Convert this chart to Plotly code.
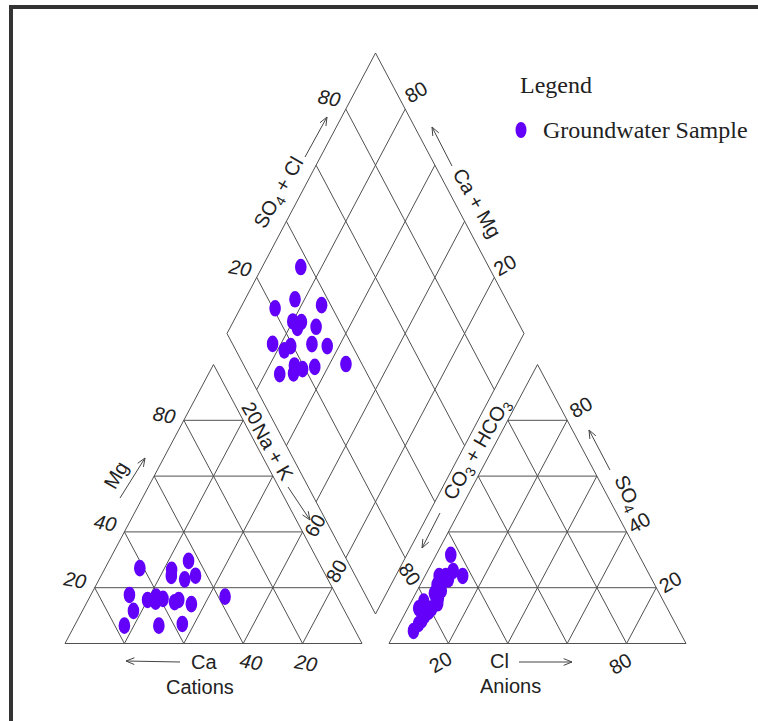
import numpy as np
import plotly.graph_objects as go

# ---------------- data: groundwater samples (% meq/L) ----------------
ca   = [61.3, 69.6, 76.8, 71.1, 64.4, 60.9, 50.9, 62.0, 52.1, 59.0, 43.6, 65.2, 48.2, 55.7, 53.9, 43.9, 50.4, 57.0, 37.7]
mg   = [27.0, 17.4, 6.4, 11.7, 15.6, 16.8, 26.4, 15.0, 24.2, 16.0, 29.6, 6.4, 23.0, 14.8, 15.6, 24.3, 14.1, 7.0, 16.8]
nak  = [11.7, 13.0, 16.8, 17.2, 20.0, 22.3, 22.7, 23.0, 23.7, 25.0, 26.8, 28.4, 28.8, 29.5, 30.5, 31.8, 35.5, 36.0, 45.5]
hco3 = [79.3, 63.3, 71.0, 86.5, 75.7, 83.7, 75.3, 72.9, 80.8, 89.5, 63.1, 83.0, 68.8, 84.7, 73.3, 80.9, 76.4, 68.5, 65.4]
so4  = [12.6, 31.8, 24.2, 7.0, 18.0, 12.6, 16.2, 19.0, 15.0, 4.5, 24.2, 10.0, 24.2, 8.4, 21.0, 11.4, 14.4, 23.0, 26.0]
cl   = [8.1, 4.9, 4.8, 6.5, 6.3, 3.7, 8.5, 8.1, 4.2, 6.0, 12.7, 7.0, 7.0, 6.9, 5.7, 7.7, 9.2, 8.5, 8.6]

grid_steps = [20, 40, 60, 80]
series_name = "Groundwater Sample"
legend_title = "Legend"

# ---------------- geometry / layout constants ----------------
W, HT = 758, 721
H = np.sqrt(3) / 2
GAP = 27 / 297
AX0 = 1 + GAP                     # anion triangle origin
PX_X = 297.0                      # pixels per x unit (triangle side)
PX_Y = 279.0 / H                  # pixels per y unit
X0_PX, Y0_PX = 65.0, 643.5        # pixel position of data origin
DBX, DBY = 1 + GAP / 2, (Y0_PX - 614.0) / PX_Y   # diamond bottom vertex
DSTRETCH = 280.5 / 279.0          # diamond slightly taller than triangles

LINE_C = "#505050"
TXT_C = "#222222"
PT_C = "#6200FA"
SANS = "Liberation Sans, Arial, sans-serif"
SERIF = "Liberation Serif, Times New Roman, serif"


def d2p(x, y):
    return X0_PX + x * PX_X, Y0_PX - y * PX_Y


def p2d(px, py):
    return (px - X0_PX) / PX_X, (Y0_PX - py) / PX_Y


def cation_xy(c, m, n):
    c, m, n = (np.asarray(v, float) / 100 for v in (c, m, n))
    return n + m / 2, m * H


def anion_xy(h, s, c):
    h, s, c = (np.asarray(v, float) / 100 for v in (h, s, c))
    return AX0 + c + s / 2, s * H


def diamond_xy(n, s, c):
    n, s, c = (np.asarray(v, float) / 100 for v in (n, s, c))
    a = 1 - n          # Ca+Mg
    t = s + c          # SO4+Cl
    return DBX + 0.5 * (t - a), DBY + H * DSTRETCH * (a + t)


# ---------------- frame lines ----------------
gx, gy = [], []


def seg(p, q):
    gx.extend([p[0], q[0], None])
    gy.extend([p[1], q[1], None])


for ox in (0.0, AX0):
    seg((ox, 0), (ox + 1, 0))
    seg((ox + 1, 0), (ox + 0.5, H))
    seg((ox + 0.5, H), (ox, 0))
    for v in grid_steps:
        f = v / 100
        seg((ox + f / 2, f * H), (ox + 1 - f / 2, f * H))
        seg((ox + f, 0), (ox + f + (1 - f) / 2, (1 - f) * H))
        seg((ox + 1 - f, 0), (ox + (1 - f) / 2, (1 - f) * H))

B = np.array([DBX, DBY])
U = np.array([-0.5, H * DSTRETCH])
V = np.array([0.5, H * DSTRETCH])
seg(B, B + U); seg(B + U, B + U + V); seg(B + U + V, B + V); seg(B + V, B)
for v in grid_steps:
    f = v / 100
    seg(B + f * U, B + f * U + V)
    seg(B + f * V, B + f * V + U)

fig = go.Figure()
fig.add_trace(go.Scatter(x=gx, y=gy, mode="lines", line=dict(color=LINE_C, width=1),
                         hoverinfo="skip", showlegend=False))

# ---------------- arrows (decorations, pixel positions) ----------------
ax_, ay_ = [], []


def arrow(p0, p1, head=9, ang=22):
    x0, y0 = p0
    x1, y1 = p1
    dx, dy = x0 - x1, y0 - y1
    L = np.hypot(dx, dy)
    dx, dy = dx / L, dy / L
    pts = [p2d(x0, y0), p2d(x1, y1)]
    ax_.extend([pts[0][0], pts[1][0], None])
    ay_.extend([pts[0][1], pts[1][1], None])
    for sgn in (1, -1):
        a = np.radians(ang * sgn)
        hx = dx * np.cos(a) - dy * np.sin(a)
        hy = dx * np.sin(a) + dy * np.cos(a)
        q = p2d(x1 + hx * head, y1 + hy * head)
        ax_.extend([pts[1][0], q[0], None])
        ay_.extend([pts[1][1], q[1], None])


arrow((120, 498), (145, 458))      # Mg
arrow((180, 662), (126, 661))      # Ca
arrow((288, 487), (310, 520))      # Na+K
arrow((440, 513), (422, 548))      # CO3+HCO3
arrow((519, 662), (572, 662))      # Cl
arrow((610, 470), (589, 430))      # SO4
arrow((305, 157), (327, 117))      # SO4+Cl
arrow((452, 166), (432, 127))      # Ca+Mg

fig.add_trace(go.Scatter(x=ax_, y=ay_, mode="lines", line=dict(color="#444444", width=1),
                         hoverinfo="skip", showlegend=False))

# ---------------- sample points (ellipses) ----------------
RX, RY = 5.8 / PX_X, 8.3 / PX_Y
shapes = []
for (xs, ys) in (cation_xy(ca, mg, nak), anion_xy(hco3, so4, cl), diamond_xy(nak, so4, cl)):
    for x, y in zip(xs, ys):
        shapes.append(dict(type="circle", xref="x", yref="y", x0=x - RX, x1=x + RX,
                           y0=y - RY, y1=y + RY, fillcolor=PT_C, line=dict(width=0)))

# legend marker + outer frame
shapes.append(dict(type="circle", xref="paper", yref="paper",
                   x0=(521 - 5.5) / W, x1=(521 + 5.5) / W,
                   y0=1 - (130 + 8) / HT, y1=1 - (130 - 8) / HT,
                   fillcolor=PT_C, line=dict(width=0)))
shapes.append(dict(type="rect", xref="paper", yref="paper",
                   x0=11 / W, x1=1.02, y0=-0.02, y1=1 - 7 / HT,
                   line=dict(color="#333333", width=4), fillcolor="rgba(0,0,0,0)"))

# ---------------- text ----------------
ann = []


def txt(px, py, text, rot=0, size=20, font=SANS, xanchor="center"):
    x, y = p2d(px, py)
    ann.append(dict(x=x, y=y, xref="x", yref="y", text=text, showarrow=False,
                    textangle=rot, xanchor=xanchor, yanchor="middle",
                    font=dict(family=font, size=size, color=TXT_C)))


def tick(anchor, dpx, value, rot):
    px, py = d2p(*anchor)
    txt(px + dpx[0], py + dpx[1], f"<i>{value}</i>" if rot == 10 else str(value), rot)


# cation Mg (left edge)
for v, off in zip([20, 40, 80], [(-20, -8), (-19, -9), (-20, -5)]):
    tick((v / 200, v / 100 * H), off, v, 10)
# cation Ca (bottom edge)
for v, off in zip([40, 20], [(8, 18), (3, 19)]):
    tick(((100 - v) / 100, 0), off, v, 10)
# cation Na+K (right edge)
tick((0.6, 0.8 * H), (9, -7), 20, 60)
tick((0.8, 0.4 * H), (12, -6), 60, -60)
tick((0.9, 0.2 * H), (4, -17), 80, -60)
# anion Cl (bottom edge)
for v, off in zip([20, 80], [(-8, 18), (-7, 20)]):
    tick((AX0 + v / 100, 0), off, v, -30)
# anion SO4 (right edge)
for v, off in zip([80, 40, 20], [(14, -13), (12, -9), (14, -6)]):
    tick((AX0 + 1 - v / 200, v / 100 * H), off, v, -30)
# anion CO3+HCO3 (left edge)
tick((AX0 + 0.1, 0.2 * H), (-9, -14), 80, 55)
# diamond SO4+Cl (upper-left edge)
for v, off in zip([20, 80], [(-17, -9), (-17, -11)]):
    p = B + U + v / 100 * V
    tick(tuple(p), off, v, 10)
# diamond Ca+Mg (upper-right edge)
for v, off in zip([80, 20], [(11, -17), (11, -12)]):
    p = B + V + v / 100 * U
    tick(tuple(p), off, v, -30)

# axis titles
txt(116, 475, "Mg", -60)
txt(204, 662, "Ca")
txt(200, 687, "Cations")
txt(273, 452, "Na + K", 60)
txt(477, 450, "CO<sub>3</sub> + HCO<sub>3</sub>", -60)
txt(499, 661, "Cl")
txt(510, 686, "Anions")
txt(627, 493, "SO<sub>4</sub>", 65)
txt(279, 193, "SO<sub>4</sub> + Cl", -60)
txt(477, 203, "Ca + Mg", 60)

# legend
txt(518, 85, legend_title, 0, 24, SERIF, "left")
txt(541, 130, series_name, 0, 24, SERIF, "left")

fig.update_layout(
    width=W, height=HT,
    margin=dict(l=0, r=0, t=0, b=0),
    paper_bgcolor="white", plot_bgcolor="white",
    xaxis=dict(range=[-X0_PX / PX_X, (W - X0_PX) / PX_X], visible=False, fixedrange=True),
    yaxis=dict(range=[-(HT - Y0_PX) / PX_Y, Y0_PX / PX_Y], visible=False, fixedrange=True),
    shapes=shapes, annotations=ann, showlegend=False,
)

fig.write_html("out.html")
